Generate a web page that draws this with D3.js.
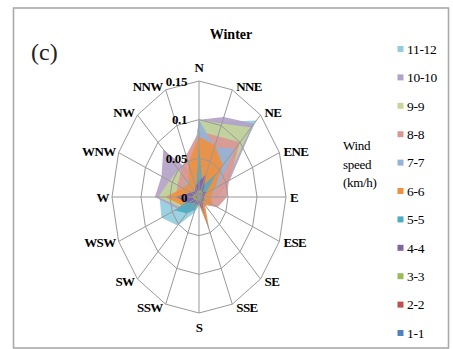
<!DOCTYPE html>
<html><head><meta charset="utf-8">
<script src="https://cdn.jsdelivr.net/npm/d3@7"></script>
<style>
body{margin:0;background:#fff;}
svg{display:block;}
</style></head>
<body>
<script>
const directions = ["N","NNE","NE","ENE","E","ESE","SE","SSE","S","SSW","SW","WSW","W","WNW","NW","NNW"];
const seriesNames = ["11-12","10-10","9-9","8-8","7-7","6-6","5-5","4-4","3-3","2-2","1-1"];
const seriesColors = ["#93CDDD","#B3A2C7","#C3D69B","#D99795","#95B3D7","#F0903E","#4BACC6","#8064A2","#9BBB59","#C0504D","#4F81BD"];
const tickValues = [0, 0.05, 0.1, 0.15];
const tickLabels = ["0","0.05","0.1","0.15"];

const s11_12 = [0.100,0.105,0.140,0.052,0.030,0.020,0.012,0.012,0.012,0.022,0.052,0.070,0.068,0.045,0.040,0.030];
const s10_10 = [0.100,0.112,0.134,0.058,0.032,0.020,0.012,0.015,0.010,0.015,0.025,0.040,0.076,0.070,0.087,0.035];
const s9_9   = [0.100,0.103,0.127,0.050,0.030,0.020,0.010,0.012,0.010,0.012,0.020,0.035,0.070,0.055,0.050,0.030];
const s8_8   = [0.085,0.085,0.100,0.056,0.048,0.035,0.015,0.015,0.010,0.012,0.020,0.025,0.040,0.040,0.045,0.058];
const s7_7   = [0.100,0.070,0.088,0.035,0.020,0.015,0.010,0.010,0.008,0.010,0.015,0.020,0.030,0.030,0.030,0.030];
const s6_6   = [0.078,0.072,0.058,0.030,0.020,0.025,0.015,0.047,0.010,0.015,0.020,0.030,0.058,0.030,0.025,0.048];
const s5_5   = [0.068,0.015,0.045,0.012,0.008,0.012,0.006,0.018,0.006,0.018,0.030,0.045,0.012,0.018,0.010,0.012];
const s4_4   = [0.020,0.032,0.010,0.014,0.008,0.010,0.008,0.025,0.008,0.012,0.010,0.020,0.040,0.015,0.010,0.015];
const s3_3   = [0.008,0.010,0.008,0.006,0.005,0.005,0.004,0.006,0.004,0.005,0.006,0.008,0.012,0.008,0.006,0.008];
const s2_2   = [0.005,0.006,0.005,0.004,0.003,0.003,0.003,0.004,0.003,0.003,0.004,0.005,0.008,0.005,0.004,0.005];
const s1_1   = [0.004,0.004,0.004,0.003,0.002,0.002,0.002,0.003,0.002,0.002,0.003,0.004,0.005,0.004,0.003,0.004];
const seriesValues = [s11_12,s10_10,s9_9,s8_8,s7_7,s6_6,s5_5,s4_4,s3_3,s2_2,s1_1];

const FONT = "'Liberation Serif', 'Times New Roman', Times, serif";
const W = 453, H = 349;
const cx = 199, cy = 197, rx = 87, ry = 116;
const svg = d3.select("body").append("svg").attr("width", W).attr("height", H)
  .attr("font-family", FONT);

// frame
svg.append("rect").attr("x", 13.5).attr("y", 8).attr("width", 435).attr("height", 340)
  .attr("fill", "none").attr("stroke", "#aaa").attr("stroke-width", 1.6);

const r = d3.scaleLinear().domain([0, 0.15]).range([0, 1]);
const ang = d3.scalePoint().domain(directions).range([0, 360 * 15 / 16]);
function pt(dir, v) {
  const a = ang(dir) * Math.PI / 180;
  return [cx + rx * r(v) * Math.sin(a), cy - ry * r(v) * Math.cos(a)];
}
const line = d3.line().curve(d3.curveLinearClosed);

// series polygons (first series at back)
const gS = svg.append("g");
seriesValues.forEach((vals, i) => {
  gS.append("path")
    .attr("d", line(directions.map((d, j) => pt(d, vals[j]))))
    .attr("fill", seriesColors[i]).attr("fill-opacity", 0.92)
    .attr("stroke", "none");
});

// grid
const gG = svg.append("g").attr("stroke", "#999").attr("stroke-width", 1).attr("fill", "none");
tickValues.filter(t => t > 0).forEach(t => {
  gG.append("path").attr("d", line(directions.map(d => pt(d, t))));
});
directions.forEach(d => {
  const p = pt(d, 0.15);
  gG.append("line").attr("x1", cx).attr("y1", cy).attr("x2", p[0]).attr("y2", p[1]);
});

// direction labels
directions.forEach(d => {
  const a = ang(d) * Math.PI / 180;
  const p = pt(d, 0.15);
  const s = Math.sin(a), c = Math.cos(a);
  let x = p[0], y = p[1] - 4 * c, anchor = "middle";
  if (Math.abs(s) < 1e-6) { y = p[1] - 14 * c; }
  else if (s > 0) { x = p[0] + 4; anchor = "start"; }
  else { x = p[0] - 3; anchor = "end"; }
  svg.append("text").attr("x", x).attr("y", y).attr("dy", "0.35em")
    .attr("font-family", FONT)
    .attr("text-anchor", anchor).attr("font-size", 13).attr("font-weight", "bold")
    .attr("letter-spacing", -0.6).text(d);
});

// tick labels
tickValues.forEach((t, i) => {
  const p = pt("N", t);
  svg.append("text").attr("x", 187).attr("y", p[1]).attr("dy", "0.35em")
    .attr("font-family", FONT)
    .attr("text-anchor", "end").attr("font-size", 13).attr("font-weight", "bold")
    .attr("letter-spacing", -0.4).text(tickLabels[i]);
});

// title, panel label
svg.append("text").attr("x", 231).attr("y", 39).attr("text-anchor", "middle")
  .attr("font-family", FONT)
  .attr("font-size", 14).attr("font-weight", "bold").text("Winter");
svg.append("text").attr("x", 31).attr("y", 60).attr("font-size", 24)
  .attr("font-family", FONT).attr("fill", "#222").text("(c)");

// legend title
["Wind", "speed", "(km/h)"].forEach((t, i) => {
  svg.append("text").attr("x", 343).attr("y", 150 + i * 18.5).attr("font-size", 13)
    .attr("font-family", FONT)
    .attr("letter-spacing", -0.3).text(t);
});

// legend
const lg = svg.append("g");
seriesNames.forEach((n, i) => {
  const y = 49 + i * 28.4;
  lg.append("rect").attr("x", 397.5).attr("y", y - 3).attr("width", 6).attr("height", 6).attr("fill", seriesColors[i]);
  lg.append("text").attr("x", 407).attr("y", y).attr("dy", "0.35em").attr("font-size", 13.5)
    .attr("font-family", FONT)
    .attr("letter-spacing", -0.3).text(n);
});
</script>
</body></html>
